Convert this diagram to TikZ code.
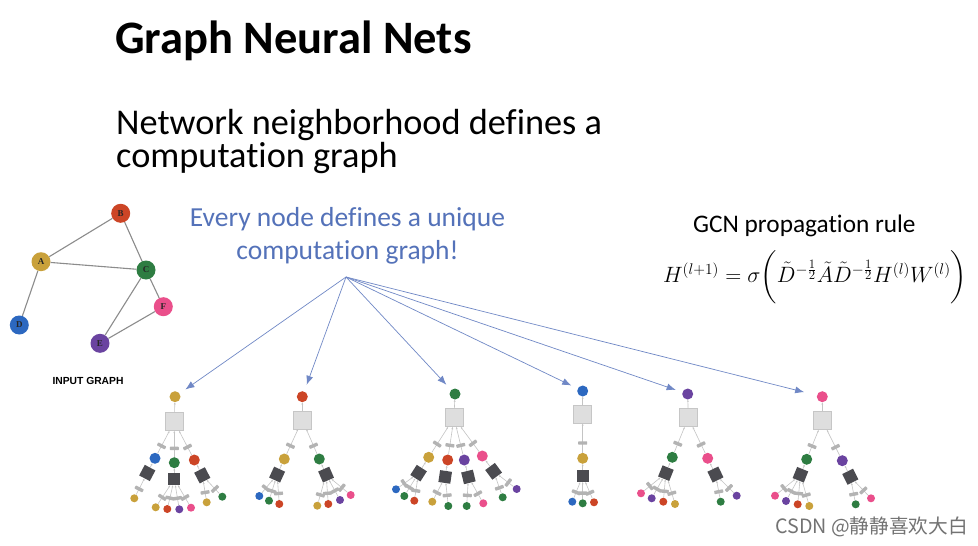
\documentclass[tikz,border=0pt]{standalone}
\usepackage{amsmath}
\usepackage{fontspec}
\setmainfont{Carlito}[Ligatures=NoCommon]
\newfontfamily\cjk{Noto Sans CJK SC}
\newfontfamily\arialf{Liberation Sans}
\newfontfamily\serf{Liberation Serif}
\usetikzlibrary{arrows.meta}
\definecolor{cgold}{HTML}{C9A13B}
\definecolor{cred}{HTML}{CC4526}
\definecolor{cgreen}{HTML}{2E7D42}
\definecolor{cblue}{HTML}{2C68C0}
\definecolor{cpurple}{HTML}{6A43A0}
\definecolor{cpink}{HTML}{EA4F8B}
\definecolor{bluetxt}{HTML}{5472B9}
\definecolor{arrblue}{HTML}{7088C6}
\definecolor{lboxfill}{HTML}{DEDEDE}
\definecolor{lboxdraw}{HTML}{C6C6C6}
\definecolor{dboxfill}{HTML}{4B4B50}
\definecolor{wfill}{HTML}{B3B3B3}
\definecolor{edgegray}{HTML}{C4C4C4}
\newcommand\ch[6]{%
  \node[cn=#2] (#1) at (#3,#4) {};
  \path (#5.center) -- (#1.center) node[dbox,sloped,pos=1.4] (#6) {};
  \draw[tedge] (#1) -- node[wrect,pos=.33] (#1w) {} (#5);
  \draw[tedge] (#6) -- (#1);}
\newcommand\lf[5]{%
  \node[lfn=#2] (#1) at (#3,#4) {};
  \draw[tedge] (#1) -- node[wrect,pos=.35] (#1w) {} (#5);}
\begin{document}
\begin{tikzpicture}[x=1pt,y=-1pt,
  cn/.style={circle,inner sep=0pt,minimum size=11pt,fill=#1},
  lfn/.style={circle,inner sep=0pt,minimum size=8pt,fill=#1},
  lbox/.style={rectangle,inner sep=0pt,minimum size=18pt,fill=lboxfill,draw=lboxdraw,line width=0.5pt},
  dbox/.style={rectangle,inner sep=0pt,minimum size=12pt,fill=dboxfill},
  wrect/.style={rectangle,sloped,inner sep=0pt,minimum width=3.4pt,minimum height=9pt,fill=wfill,rounded corners=0.6pt},
  tedge/.style={draw=edgegray,line width=0.6pt,-{Stealth[length=2.2pt,width=1.8pt]}},
  gnode/.style={circle,inner sep=0pt,minimum size=19pt,fill=#1,text=black!85,font=\serf\bfseries\fontsize{9}{10}\selectfont},
  gedge/.style={draw=black!45,line width=1.1pt},
  barrow/.style={draw=arrblue,line width=0.7pt,-{Latex[length=9pt,width=7pt]}}]
\useasboundingbox[fill=white] (0,0) rectangle (978,546);

% texts
\node[anchor=base west,inner sep=0pt,font=\bfseries\fontsize{46.5}{52}\selectfont] (title) at (115,53) {Graph Neural Nets};
\node[anchor=base west,inner sep=0pt,font=\fontsize{36.3}{42}\selectfont] (sub1) at (116,134.3) {Network neighborhood defines a};
\node[anchor=base west,inner sep=0pt,font=\fontsize{36.3}{42}\selectfont] (sub2) at (116,167) {computation graph};
\node[anchor=base,inner sep=0pt,text=bluetxt,font=\fontsize{27.5}{32}\selectfont] (ev1) at (347.5,226) {Every node defines a unique};
\node[anchor=base,inner sep=0pt,text=bluetxt,font=\fontsize{27.5}{32}\selectfont] (ev2) at (347.5,259) {computation graph!};
\node[anchor=base west,inner sep=0pt,font=\fontsize{25.3}{29}\selectfont] (gcn) at (693,232) {GCN propagation rule};
\node[inner sep=0pt,font=\fontsize{20.74}{25}\selectfont] (formula) at (815,277)
  {\scalebox{1.07}{$H^{(l+1)}=\sigma\biggl(\tilde{D}^{-\frac{1}{2}}\tilde{A}\tilde{D}^{-\frac{1}{2}}H^{(l)}W^{(l)}\biggr)$}};
\node[anchor=base west,inner sep=0pt,text=black!55,font=\cjk\fontsize{19.7}{22}\selectfont] (wm) at (775,533.3) {CSDN @静静喜欢大白};

% input graph
\node[gnode=cgold] (gA) at (41,261.7) {A};
\node[gnode=cred] (gB) at (120.7,213.3) {B};
\node[gnode=cgreen] (gC) at (146,270) {C};
\node[gnode=cpink] (gF) at (163.3,306.7) {F};
\node[gnode=cblue] (gD) at (19.3,325) {D};
\node[gnode=cpurple] (gE) at (100,343.3) {E};
\draw[gedge] (gA) -- (gB);
\draw[gedge] (gA) -- (gC);
\draw[gedge] (gA) -- (gD);
\draw[gedge] (gB) -- (gC);
\draw[gedge] (gC) -- (gE);
\draw[gedge] (gC) -- (gF);
\draw[gedge] (gE) -- (gF);
\node[inner sep=0pt,font=\arialf\bfseries\fontsize{10.3}{12}\selectfont] (ig) at (88,380.7) {INPUT GRAPH};

% tree 1
\node[cn=cgold] (t1r) at (175,396.7) {};
\node[lbox] (t1b) at (174.3,421.7) {};
\draw[tedge] (t1b) -- (t1r);
\ch{t1c1}{cblue}{155}{458.3}{t1b}{t1d1}
\ch{t1c2}{cgreen}{174.3}{462.7}{t1b}{t1d2}
\ch{t1c3}{cred}{194.3}{460}{t1b}{t1d3}
\lf{t1l1}{cgold}{134.3}{498.3}{t1d1}
\lf{t1l2}{cgold}{155.7}{507.3}{t1d2}
\lf{t1l3}{cred}{167.3}{509}{t1d2}
\lf{t1l4}{cpurple}{179.3}{509.3}{t1d2}
\lf{t1l5}{cpink}{191}{507.7}{t1d2}
\lf{t1l6}{cgold}{206.7}{502.3}{t1d3}
\lf{t1l7}{cgreen}{222.3}{496.7}{t1d3}

% tree 2
\node[cn=cred] (t2r) at (302.3,396.7) {};
\node[lbox] (t2b) at (302.3,420) {};
\draw[tedge] (t2b) -- (t2r);
\ch{t2c1}{cgold}{284.3}{459}{t2b}{t2d1}
\ch{t2c2}{cgreen}{319.3}{459}{t2b}{t2d2}
\lf{t2l1}{cblue}{259.3}{496}{t2d1}
\lf{t2l2}{cgreen}{269}{500.7}{t2d1}
\lf{t2l3}{cred}{279.3}{504}{t2d1}
\lf{t2l4}{cgold}{317.3}{505.7}{t2d2}
\lf{t2l5}{cred}{328.3}{504}{t2d2}
\lf{t2l6}{cpurple}{340}{500}{t2d2}
\lf{t2l7}{cpink}{350.7}{495}{t2d2}

% tree 3
\node[cn=cgreen] (t3r) at (455,394) {};
\node[lbox] (t3b) at (454,417.7) {};
\draw[tedge] (t3b) -- (t3r);
\ch{t3c1}{cgold}{428.7}{457.3}{t3b}{t3d1}
\ch{t3c2}{cred}{447.7}{460}{t3b}{t3d2}
\ch{t3c3}{cpurple}{464.3}{460}{t3b}{t3d3}
\ch{t3c4}{cpink}{482.3}{456}{t3b}{t3d4}
\lf{t3l1}{cblue}{396}{489.3}{t3d1}
\lf{t3l2}{cgreen}{404.3}{496}{t3d1}
\lf{t3l3}{cred}{414.3}{500.7}{t3d1}
\lf{t3l4}{cgold}{432.3}{501.7}{t3d2}
\lf{t3l5}{cgreen}{448.3}{506}{t3d2}
\lf{t3l6}{cgreen}{466.7}{506}{t3d3}
\lf{t3l7}{cpink}{483.3}{503.3}{t3d3}
\lf{t3l8}{cgreen}{502.7}{497.3}{t3d4}
\lf{t3l9}{cpurple}{516.7}{489}{t3d4}

% tree 4
\node[cn=cblue] (t4r) at (582.7,391) {};
\node[lbox] (t4b) at (582.7,414.3) {};
\draw[tedge] (t4b) -- (t4r);
\ch{t4c1}{cgold}{582.7}{458.3}{t4b}{t4d1}
\lf{t4l1}{cblue}{572.3}{501.7}{t4d1}
\lf{t4l2}{cgreen}{582.7}{503.3}{t4d1}
\lf{t4l3}{cred}{594}{502.3}{t4d1}

% tree 5
\node[cn=cpurple] (t5r) at (687.7,394) {};
\node[lbox] (t5b) at (688.3,417.7) {};
\draw[tedge] (t5b) -- (t5r);
\ch{t5c1}{cgreen}{672.3}{457.3}{t5b}{t5d1}
\ch{t5c2}{cpink}{707.7}{458.3}{t5b}{t5d2}
\lf{t5l1}{cpink}{641}{493.3}{t5d1}
\lf{t5l2}{cpurple}{651.7}{498.3}{t5d1}
\lf{t5l3}{cred}{663.3}{501.7}{t5d1}
\lf{t5l4}{cgold}{675}{504}{t5d1}
\lf{t5l5}{cgreen}{720.7}{501.7}{t5d2}
\lf{t5l6}{cpurple}{736.7}{495.7}{t5d2}

% tree 6
\node[cn=cpink] (t6r) at (822.3,396.7) {};
\node[lbox] (t6b) at (822.3,420.7) {};
\draw[tedge] (t6b) -- (t6r);
\ch{t6c1}{cgreen}{806.7}{459.3}{t6b}{t6d1}
\ch{t6c2}{cpurple}{842.3}{460.7}{t6b}{t6d2}
\lf{t6l1}{cpink}{775}{495.7}{t6d1}
\lf{t6l2}{cpurple}{786}{501}{t6d1}
\lf{t6l3}{cred}{797.7}{504.3}{t6d1}
\lf{t6l4}{cgold}{809.3}{506}{t6d1}
\lf{t6l5}{cgreen}{855.7}{504.3}{t6d2}
\lf{t6l6}{cpink}{871}{498.3}{t6d2}

% blue arrows
\coordinate (src) at (346,277);
\draw[barrow,shorten >=7pt] (src) -- (t1r);
\draw[barrow,shorten >=7pt] (src) -- (t2r);
\draw[barrow,shorten >=7pt] (src) -- (t3r);
\draw[barrow,shorten >=7pt] (src) -- (t4r);
\draw[barrow,shorten >=7pt] (src) -- (t5r);
\draw[barrow,shorten >=13pt] (src) -- (t6r);
\end{tikzpicture}
\end{document}
